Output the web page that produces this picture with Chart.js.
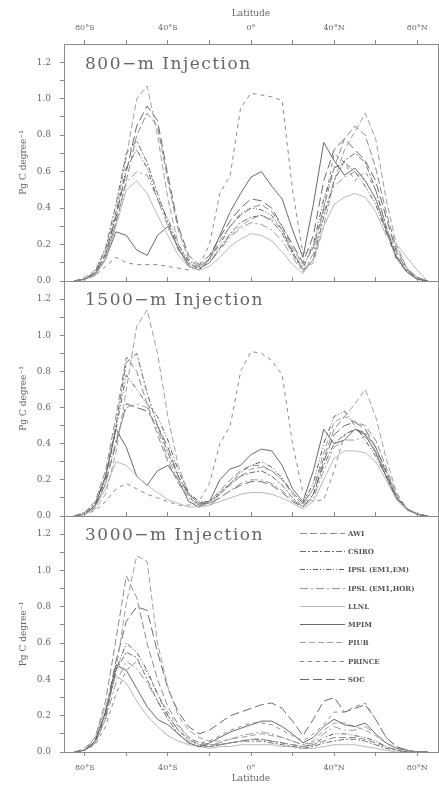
<!DOCTYPE html>
<html>
<head>
<meta charset="utf-8">
<title>Injected carbon by latitude</title>
<script src="https://cdn.jsdelivr.net/npm/chart.js"></script>
<style>
  body { margin: 0; background: #fff; }
  #wrap { position: relative; width: 439px; height: 787px; overflow: hidden; }
  canvas { position: absolute; left: 0; top: 0; }
  .panel-title { position: absolute; left: 85px; font: 17px "DejaVu Serif", serif; letter-spacing: 1.5px; line-height: 17px; color: #666; white-space: nowrap; }
  #legend { position: absolute; left: 300px; top: 524px; }
  .row { height: 18.3px; display: flex; align-items: center; font: bold 7px "DejaVu Serif", serif; color: #555; white-space: nowrap; }
  .row svg { margin-right: 3px; }
</style>
</head>
<body>
<div id="wrap">
  <canvas id="c800" width="439" height="787"></canvas>
  <canvas id="c1500" width="439" height="787"></canvas>
  <canvas id="c3000" width="439" height="787"></canvas>
  <div class="panel-title" style="top:55px">800−m Injection</div>
  <div class="panel-title" style="top:291px">1500−m Injection</div>
  <div class="panel-title" style="top:526px">3000−m Injection</div>
  <div id="legend"></div>
</div>
<script>
// latitude of each sample (degrees, south negative)
const lats = [-85, -80, -75, -70, -65, -60, -55, -50, -45, -40, -35, -30, -25, -20, -15, -10, -5, 0,
  5, 10, 15, 20, 25, 30, 35, 40, 45, 50, 55, 60, 65, 70, 75, 80, 85];

const models = ['AWI', 'CSIRO', 'IPSL (EM1,EM)', 'IPSL (EM1,HOR)', 'LLNL', 'MPIM', 'PIUB', 'PRINCE', 'SOC'];

// Pg C per degree, one row per model (same order as models)
const values800 = [
  [0, 0.01, 0.04, 0.14, 0.32, 0.55, 0.80, 0.92, 0.85, 0.55, 0.28, 0.12, 0.08, 0.12, 0.22, 0.30, 0.36, 0.40, 0.42, 0.38, 0.30, 0.18, 0.09, 0.18, 0.40, 0.62, 0.78, 0.85, 0.80, 0.62, 0.38, 0.18, 0.07, 0.02, 0],
  [0, 0.01, 0.05, 0.18, 0.42, 0.70, 0.77, 0.65, 0.48, 0.32, 0.18, 0.10, 0.07, 0.10, 0.18, 0.26, 0.32, 0.35, 0.36, 0.33, 0.26, 0.15, 0.06, 0.12, 0.35, 0.55, 0.66, 0.70, 0.65, 0.50, 0.30, 0.14, 0.05, 0.01, 0],
  [0, 0.01, 0.04, 0.14, 0.36, 0.62, 0.72, 0.62, 0.45, 0.34, 0.20, 0.11, 0.08, 0.12, 0.20, 0.30, 0.37, 0.40, 0.39, 0.36, 0.28, 0.16, 0.07, 0.20, 0.45, 0.62, 0.65, 0.60, 0.52, 0.42, 0.27, 0.12, 0.05, 0.01, 0],
  [0, 0.01, 0.03, 0.12, 0.32, 0.54, 0.60, 0.58, 0.45, 0.30, 0.17, 0.09, 0.07, 0.10, 0.17, 0.24, 0.29, 0.32, 0.31, 0.28, 0.22, 0.13, 0.05, 0.15, 0.38, 0.52, 0.57, 0.60, 0.55, 0.45, 0.28, 0.13, 0.05, 0.01, 0],
  [0, 0.01, 0.03, 0.12, 0.30, 0.50, 0.55, 0.48, 0.36, 0.25, 0.14, 0.08, 0.06, 0.08, 0.13, 0.19, 0.23, 0.26, 0.25, 0.22, 0.16, 0.09, 0.04, 0.12, 0.30, 0.42, 0.46, 0.48, 0.46, 0.38, 0.25, 0.20, 0.13, 0.06, 0],
  [0, 0.01, 0.04, 0.12, 0.27, 0.25, 0.17, 0.14, 0.25, 0.30, 0.18, 0.08, 0.06, 0.12, 0.25, 0.38, 0.48, 0.57, 0.60, 0.52, 0.45, 0.28, 0.13, 0.42, 0.76, 0.66, 0.58, 0.62, 0.55, 0.45, 0.28, 0.13, 0.05, 0.01, 0],
  [0, 0.02, 0.06, 0.17, 0.38, 0.68, 1.00, 1.07, 0.80, 0.45, 0.20, 0.09, 0.07, 0.10, 0.18, 0.25, 0.30, 0.34, 0.36, 0.34, 0.28, 0.16, 0.06, 0.10, 0.30, 0.55, 0.72, 0.82, 0.92, 0.78, 0.45, 0.20, 0.07, 0.02, 0],
  [0, 0.01, 0.03, 0.08, 0.13, 0.10, 0.09, 0.09, 0.09, 0.08, 0.07, 0.06, 0.08, 0.20, 0.48, 0.58, 0.95, 1.03, 1.02, 1.01, 0.99, 0.50, 0.15, 0.18, 0.40, 0.70, 0.65, 0.55, 0.60, 0.50, 0.30, 0.13, 0.05, 0.02, 0],
  [0, 0.01, 0.05, 0.15, 0.35, 0.60, 0.85, 0.96, 0.88, 0.58, 0.30, 0.14, 0.09, 0.14, 0.24, 0.33, 0.40, 0.45, 0.44, 0.40, 0.30, 0.20, 0.10, 0.25, 0.55, 0.72, 0.78, 0.72, 0.66, 0.55, 0.35, 0.16, 0.06, 0.02, 0]
];

const values1500 = [
  [0, 0.02, 0.08, 0.25, 0.55, 0.88, 0.80, 0.62, 0.45, 0.30, 0.18, 0.10, 0.06, 0.08, 0.14, 0.20, 0.25, 0.28, 0.28, 0.25, 0.20, 0.13, 0.07, 0.15, 0.32, 0.48, 0.55, 0.52, 0.50, 0.42, 0.27, 0.12, 0.04, 0.01, 0],
  [0, 0.02, 0.07, 0.22, 0.50, 0.85, 0.90, 0.68, 0.50, 0.35, 0.22, 0.12, 0.07, 0.08, 0.13, 0.18, 0.22, 0.24, 0.25, 0.22, 0.17, 0.10, 0.05, 0.12, 0.28, 0.40, 0.45, 0.48, 0.46, 0.38, 0.25, 0.11, 0.04, 0.01, 0],
  [0, 0.01, 0.06, 0.20, 0.48, 0.78, 0.70, 0.62, 0.55, 0.42, 0.25, 0.13, 0.08, 0.08, 0.12, 0.18, 0.24, 0.28, 0.30, 0.27, 0.21, 0.13, 0.07, 0.18, 0.40, 0.55, 0.58, 0.50, 0.42, 0.33, 0.22, 0.10, 0.04, 0.01, 0],
  [0, 0.01, 0.05, 0.18, 0.42, 0.60, 0.62, 0.60, 0.48, 0.32, 0.20, 0.11, 0.06, 0.06, 0.10, 0.14, 0.18, 0.20, 0.20, 0.18, 0.14, 0.09, 0.05, 0.10, 0.25, 0.38, 0.42, 0.42, 0.44, 0.36, 0.23, 0.10, 0.04, 0.01, 0],
  [0, 0.01, 0.05, 0.15, 0.30, 0.28, 0.22, 0.17, 0.13, 0.09, 0.07, 0.05, 0.05, 0.06, 0.08, 0.10, 0.12, 0.13, 0.13, 0.12, 0.10, 0.07, 0.04, 0.08, 0.20, 0.32, 0.36, 0.36, 0.35, 0.30, 0.20, 0.09, 0.03, 0.01, 0],
  [0, 0.01, 0.06, 0.22, 0.48, 0.38, 0.22, 0.17, 0.25, 0.28, 0.20, 0.08, 0.05, 0.08, 0.20, 0.26, 0.28, 0.34, 0.37, 0.36, 0.28, 0.15, 0.08, 0.25, 0.48, 0.40, 0.42, 0.48, 0.45, 0.35, 0.22, 0.10, 0.04, 0.01, 0],
  [0, 0.01, 0.04, 0.12, 0.35, 0.70, 1.05, 1.14, 0.90, 0.55, 0.28, 0.12, 0.07, 0.07, 0.12, 0.17, 0.22, 0.26, 0.27, 0.25, 0.20, 0.12, 0.06, 0.15, 0.35, 0.52, 0.55, 0.62, 0.70, 0.55, 0.32, 0.13, 0.04, 0.01, 0],
  [0, 0.01, 0.03, 0.08, 0.15, 0.18, 0.15, 0.12, 0.10, 0.08, 0.06, 0.06, 0.08, 0.18, 0.40, 0.50, 0.80, 0.91, 0.90, 0.86, 0.78, 0.40, 0.13, 0.08, 0.09, 0.25, 0.45, 0.48, 0.45, 0.35, 0.22, 0.10, 0.04, 0.01, 0],
  [0, 0.01, 0.05, 0.18, 0.40, 0.62, 0.60, 0.58, 0.50, 0.38, 0.22, 0.12, 0.07, 0.07, 0.10, 0.14, 0.17, 0.19, 0.19, 0.17, 0.13, 0.08, 0.05, 0.12, 0.30, 0.45, 0.50, 0.52, 0.48, 0.38, 0.24, 0.10, 0.04, 0.01, 0]
];

const values3000 = [
  [0, 0.02, 0.08, 0.28, 0.62, 0.97, 0.85, 0.60, 0.40, 0.25, 0.15, 0.08, 0.05, 0.04, 0.04, 0.05, 0.06, 0.07, 0.07, 0.06, 0.05, 0.04, 0.03, 0.04, 0.06, 0.08, 0.08, 0.08, 0.07, 0.05, 0.03, 0.01, 0, 0, 0],
  [0, 0.01, 0.06, 0.22, 0.45, 0.55, 0.52, 0.40, 0.28, 0.18, 0.10, 0.05, 0.03, 0.03, 0.04, 0.05, 0.06, 0.06, 0.06, 0.05, 0.04, 0.03, 0.02, 0.03, 0.05, 0.06, 0.07, 0.07, 0.06, 0.04, 0.02, 0.01, 0, 0, 0],
  [0, 0.01, 0.05, 0.20, 0.45, 0.60, 0.55, 0.45, 0.32, 0.20, 0.12, 0.07, 0.04, 0.03, 0.04, 0.05, 0.06, 0.07, 0.07, 0.06, 0.05, 0.04, 0.03, 0.04, 0.08, 0.10, 0.10, 0.09, 0.08, 0.06, 0.03, 0.01, 0, 0, 0],
  [0, 0.01, 0.05, 0.18, 0.38, 0.50, 0.46, 0.38, 0.28, 0.20, 0.12, 0.06, 0.04, 0.04, 0.05, 0.07, 0.09, 0.10, 0.11, 0.10, 0.08, 0.06, 0.04, 0.05, 0.10, 0.14, 0.12, 0.12, 0.14, 0.10, 0.05, 0.02, 0.01, 0, 0],
  [0, 0.01, 0.08, 0.25, 0.42, 0.38, 0.28, 0.20, 0.14, 0.09, 0.06, 0.04, 0.03, 0.02, 0.03, 0.03, 0.04, 0.04, 0.04, 0.04, 0.03, 0.03, 0.02, 0.02, 0.03, 0.04, 0.04, 0.04, 0.03, 0.02, 0.01, 0, 0, 0, 0],
  [0, 0.01, 0.06, 0.22, 0.48, 0.45, 0.35, 0.25, 0.18, 0.15, 0.10, 0.05, 0.03, 0.05, 0.08, 0.11, 0.13, 0.15, 0.17, 0.17, 0.14, 0.10, 0.05, 0.08, 0.14, 0.18, 0.15, 0.14, 0.16, 0.10, 0.05, 0.02, 0.01, 0, 0],
  [0, 0.01, 0.05, 0.18, 0.45, 0.82, 1.08, 1.05, 0.60, 0.36, 0.20, 0.12, 0.08, 0.06, 0.06, 0.07, 0.08, 0.09, 0.10, 0.09, 0.08, 0.06, 0.04, 0.06, 0.12, 0.16, 0.16, 0.14, 0.12, 0.09, 0.05, 0.02, 0.01, 0, 0],
  [0, 0.01, 0.04, 0.14, 0.32, 0.45, 0.50, 0.44, 0.32, 0.22, 0.14, 0.08, 0.05, 0.06, 0.09, 0.12, 0.14, 0.16, 0.16, 0.15, 0.12, 0.09, 0.06, 0.10, 0.15, 0.22, 0.22, 0.25, 0.27, 0.18, 0.08, 0.03, 0.01, 0, 0],
  [0, 0.01, 0.06, 0.22, 0.50, 0.72, 0.80, 0.78, 0.55, 0.35, 0.22, 0.14, 0.10, 0.12, 0.16, 0.20, 0.22, 0.24, 0.26, 0.27, 0.24, 0.17, 0.09, 0.18, 0.28, 0.30, 0.22, 0.24, 0.26, 0.18, 0.08, 0.03, 0.01, 0, 0]
];

const latTicks = [-80, -60, -40, -20, 0, 20, 40, 60, 80];
const valueTicks = [0, 0.1, 0.2, 0.3, 0.4, 0.5, 0.6, 0.7, 0.8, 0.9, 1.0, 1.1, 1.2];

// line look per model
const lineColors = ['#8c8c8c', '#6e6e6e', '#5f5f5f', '#9a9a9a', '#b8b8b8', '#6a6a6a', '#a0a0a0', '#8a8a8a', '#6a6a6a'];
const lineDashes = [[7, 3], [6, 2, 2, 2], [5, 2, 1, 2, 1, 2], [8, 3, 2, 3], [], [], [6, 3], [4, 4], [9, 4]];

const axisColor = '#8a8a8a';
const textColor = '#666';
const serif = 'DejaVu Serif';

function latLabel(v) {
  if (v % 40 !== 0) return '';
  if (v === 0) return '0°';
  return v < 0 ? (-v) + '°S' : v + '°N';
}

function xAxis(position, showLabels, height) {
  return {
    type: 'linear',
    position: position,
    min: -90,
    max: 90,
    afterBuildTicks: s => { s.ticks = latTicks.map(v => ({ value: v })); },
    afterFit: s => { s.height = height; },
    grid: { drawOnChartArea: false, drawTicks: height > 0, tickLength: 4, color: axisColor },
    border: { display: true, color: axisColor },
    ticks: {
      display: showLabels, autoSkip: false, maxRotation: 0, padding: 7,
      color: textColor, font: { family: serif, size: 8 },
      callback: v => latLabel(v)
    },
    title: {
      display: showLabels, text: 'Latitude', color: textColor,
      font: { family: serif, size: 9 },
      padding: position === 'top' ? { top: 8, bottom: 0 } : { top: 0, bottom: 3 }
    }
  };
}

function makePanel(id, values, topLabels, bottomLabels, padTop, padBottom) {
  const datasets = models.map((name, i) => ({
    label: name,
    data: lats.map((lat, j) => ({ x: lat, y: values[i][j] })),
    xAxisID: 'x',
    yAxisID: 'y',
    borderColor: lineColors[i],
    borderDash: lineDashes[i],
    borderWidth: 1,
    pointRadius: 0,
    tension: 0,
    fill: false
  }));

  new Chart(document.getElementById(id), {
    type: 'line',
    data: { datasets },
    options: {
      responsive: false,
      animation: false,
      devicePixelRatio: 1,
      layout: { padding: { top: padTop, bottom: padBottom, left: 0, right: 0 } },
      plugins: { legend: { display: false }, tooltip: { enabled: false } },
      scales: {
        x: xAxis('bottom', bottomLabels, bottomLabels ? 35 : 0),
        x2: xAxis('top', topLabels, topLabels ? 44 : 4),
        y: {
          type: 'linear',
          position: 'left',
          min: 0,
          max: 1.3,
          afterBuildTicks: s => { s.ticks = valueTicks.map(v => ({ value: v })); },
          afterFit: s => { s.width = 64; },
          grid: { drawOnChartArea: false, tickLength: 4, color: axisColor },
          border: { color: axisColor },
          ticks: {
            autoSkip: false, padding: 9, color: textColor,
            font: { family: serif, size: 9 },
            callback: v => (Math.round(v * 10) % 2 === 0 ? v.toFixed(1) : '')
          },
          title: {
            display: true, text: 'Pg C degree⁻¹', color: textColor,
            font: { family: serif, size: 9 }, padding: { top: 18, bottom: 0 }
          }
        },
        y2: {
          type: 'linear',
          position: 'right',
          min: 0,
          max: 1.3,
          afterFit: s => { s.width = 1; },
          grid: { display: false },
          ticks: { display: false },
          border: { color: axisColor }
        }
      }
    }
  });
}

// plot areas: 44-281, 281-516, 516-752 (canvas is 787 tall)
makePanel('c800', values800, true, false, 0, 787 - 281);
makePanel('c1500', values1500, false, false, 281 - 4, 787 - 516);
makePanel('c3000', values3000, false, true, 516 - 4, 0);

// legend inside the bottom panel
const legend = document.getElementById('legend');
models.forEach((name, i) => {
  const row = document.createElement('div');
  row.className = 'row';
  const dash = lineDashes[i].length ? lineDashes[i].join(' ') : 'none';
  row.innerHTML = '<svg width="45" height="3"><line x1="0" y1="1.5" x2="45" y2="1.5" stroke="' +
    lineColors[i] + '" stroke-width="1" stroke-dasharray="' + dash + '"/></svg>';
  const label = document.createElement('span');
  label.textContent = name;
  row.appendChild(label);
  legend.appendChild(row);
});
</script>
</body>
</html>
